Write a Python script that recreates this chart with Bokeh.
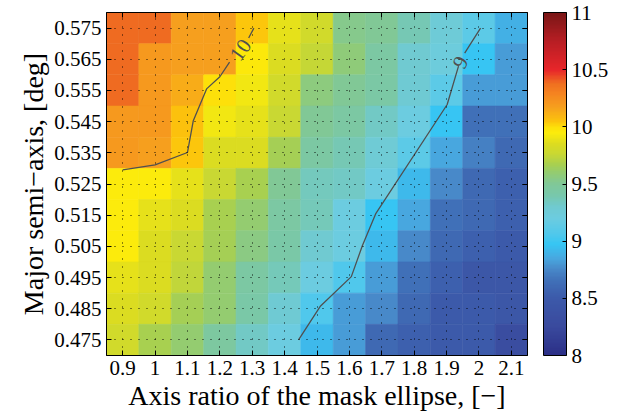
import numpy as np
from bokeh.plotting import figure
from bokeh.models import (LinearColorMapper, ColorBar, FixedTicker, LinearAxis,
                          ColumnDataSource)
from bokeh.embed import file_html
from bokeh.resources import INLINE
from bokeh.core.properties import value

# ---------------- data ----------------
x_vals = [0.9, 1.0, 1.1, 1.2, 1.3, 1.4, 1.5, 1.6, 1.7, 1.8, 1.9, 2.0, 2.1]
x_labels = ["0.9", "1", "1.1", "1.2", "1.3", "1.4", "1.5", "1.6", "1.7", "1.8", "1.9", "2", "2.1"]
y_vals = [0.575, 0.565, 0.555, 0.545, 0.535, 0.525, 0.515, 0.505, 0.495, 0.485, 0.475]
y_labels = ["0.575", "0.565", "0.555", "0.545", "0.535", "0.525", "0.515", "0.505", "0.495", "0.485", "0.475"]

# cell values, one list per row (top row y=0.575 ... bottom row y=0.475), columns x=0.9..2.1
z_0575 = [10.38, 10.38, 10.17, 10.17, 10.05, 9.88, 9.80, 9.53, 9.50, 9.38, 9.26, 9.12, 8.88]
z_0565 = [10.38, 10.20, 10.17, 10.17, 9.96, 9.85, 9.75, 9.58, 9.45, 9.30, 9.22, 8.97, 8.82]
z_0555 = [10.38, 10.20, 10.13, 10.00, 9.92, 9.80, 9.57, 9.50, 9.43, 9.28, 9.12, 8.82, 8.82]
z_0545 = [10.20, 10.20, 10.06, 9.92, 9.88, 9.76, 9.50, 9.45, 9.33, 9.20, 8.97, 8.65, 8.65]
z_0535 = [10.20, 10.17, 10.05, 9.85, 9.85, 9.66, 9.45, 9.38, 9.27, 9.12, 8.85, 8.72, 8.60]
z_0525 = [9.95, 9.95, 9.88, 9.76, 9.67, 9.50, 9.35, 9.33, 9.20, 8.92, 8.75, 8.60, 8.55]
z_0515 = [9.95, 9.88, 9.85, 9.67, 9.60, 9.45, 9.36, 9.20, 8.97, 8.85, 8.65, 8.60, 8.55]
z_0505 = [9.95, 9.85, 9.76, 9.66, 9.55, 9.42, 9.30, 9.20, 8.92, 8.75, 8.60, 8.55, 8.50]
z_0495 = [9.88, 9.85, 9.74, 9.60, 9.45, 9.36, 9.20, 9.06, 8.82, 8.65, 8.55, 8.45, 8.45]
z_0485 = [9.85, 9.80, 9.66, 9.60, 9.42, 9.28, 9.06, 8.82, 8.75, 8.60, 8.50, 8.50, 8.45]
z_0475 = [9.80, 9.67, 9.60, 9.46, 9.33, 9.20, 8.92, 8.82, 8.60, 8.55, 8.50, 8.50, 8.30]
rows = [z_0575, z_0565, z_0555, z_0545, z_0535, z_0525, z_0515, z_0505, z_0495, z_0485, z_0475]

# contour lines (NaN = gap for the label)
c10_x = [0.9, 1.0, 1.1, 1.118, 1.159, 1.2, 1.230, np.nan, 1.289, 1.305]
c10_y = [0.5295, 0.5311, 0.5351, 0.5453, 0.5555, 0.5594, 0.5641, np.nan, 0.5718, 0.575]
c9_x = [2.005, 1.956, np.nan, 1.937, 1.902, 1.681, 1.640, 1.606, 1.511, 1.443]
c9_y = [0.575, 0.5670, np.nan, 0.5628, 0.5505, 0.5154, 0.5052, 0.4953, 0.4859, 0.475]
clab_x = [1.2636, 1.943]
clab_y = [0.5680, 0.5640]
clab_text = ["10", "9"]
clab_angle_deg = [54.5, 63.0]

cb_ticks = [8, 8.5, 9, 9.5, 10, 10.5, 11]
cb_labels = ["8", "8.5", "9", "9.5", "10", "10.5", "11"]

# ---------------- palette ----------------
anchors = [
    (8.00, "#2b2f87"), (8.25, "#3a4a9e"), (8.50, "#3c5aaa"), (8.65, "#4070b8"),
    (8.75, "#4888c8"), (8.85, "#48a8e0"), (8.97, "#36c6f4"), (9.06, "#50c8ec"),
    (9.20, "#6ccce0"), (9.30, "#70cad0"), (9.40, "#78c8ac"), (9.50, "#80c898"),
    (9.60, "#94cc70"), (9.67, "#a8d050"), (9.76, "#c8d834"), (9.85, "#dcdc20"),
    (9.95, "#fcec0c"), (10.00, "#fde00a"), (10.05, "#fcc40c"), (10.17, "#f6a01e"),
    (10.30, "#f58220"), (10.38, "#f07020"), (10.50, "#e8262a"), (10.75, "#b81e24"),
    (11.00, "#7a1616"),
]
av = np.array([a[0] for a in anchors])
ac = np.array([[int(a[1][i:i + 2], 16) for i in (1, 3, 5)] for a in anchors], dtype=float)
n_col = 256
vv = np.linspace(8, 11, n_col)
palette = []
for v in vv:
    rgb = [np.interp(v, av, ac[:, k]) for k in range(3)]
    palette.append("#%02x%02x%02x" % tuple(int(round(c)) for c in rgb))

mapper = LinearColorMapper(palette=palette, low=8, high=11)

xs, ys, zs = [], [], []
for yv, row in zip(y_vals, rows):
    for xv, zv in zip(x_vals, row):
        xs.append(xv)
        ys.append(yv)
        zs.append(zv)
src = ColumnDataSource(dict(x=xs, y=ys, z=zs))

FONT = "Liberation Serif"

p = figure(frame_width=421, frame_height=343, width=None, height=None,
           x_range=(0.85, 2.15), y_range=(0.47, 0.58),
           output_backend="svg", toolbar_location=None,
           min_border_left=106, min_border_top=12, min_border_bottom=5, min_border_right=95)
p.rect(x="x", y="y", width=0.1, height=0.01, source=src,
       fill_color={"field": "z", "transform": mapper},
       line_color={"field": "z", "transform": mapper}, line_width=0.6)

p.line(c10_x, c10_y, line_color="#505050", line_width=1.3)
p.line(c9_x, c9_y, line_color="#505050", line_width=1.3)
p.text(x=clab_x, y=clab_y, text=clab_text, angle=[np.deg2rad(a) for a in clab_angle_deg],
       text_align="center", text_baseline="middle", text_font=value(FONT),
       text_font_size="21px", text_color="#505050")

xt = FixedTicker(ticks=x_vals)
yt = FixedTicker(ticks=y_vals)

for ax in p.xaxis:
    ax.ticker = xt
    ax.major_label_overrides = dict(zip(x_vals, x_labels))
    ax.axis_label = "Axis ratio of the mask ellipse, [\u2212]"
for ax in p.yaxis:
    ax.ticker = yt
    ax.major_label_overrides = dict(zip(y_vals, y_labels))
    ax.axis_label = "Major semi\u2212axis, [deg]"

for ax in list(p.xaxis) + list(p.yaxis):
    ax.minor_tick_line_color = None
    ax.major_tick_in = 5
    ax.major_tick_out = 0
    ax.major_tick_line_color = "black"
    ax.axis_line_color = "black"
    ax.major_label_text_font = FONT
    ax.major_label_text_font_size = "21px"
    ax.major_label_text_color = "black"
    ax.axis_label_text_font = FONT
    ax.axis_label_text_font_size = "28px"
    ax.axis_label_text_font_style = "normal"
    ax.axis_label_text_color = "black"
    ax.major_label_standoff = 5
    ax.axis_label_standoff = 2

for place, tick in (("above", xt), ("right", yt)):
    a = LinearAxis(ticker=tick, major_label_text_font_size="0px", major_label_standoff=0,
                   major_label_text_color=None,
                   major_tick_in=5, major_tick_out=0, minor_tick_line_color=None,
                   axis_line_color="black", major_tick_line_color="black")
    p.add_layout(a, place)

for g in (p.xgrid, p.ygrid):
    g.grid_line_color = "black"
    g.grid_line_dash = "1 7"
    g.grid_line_alpha = 0.9
    g.grid_line_width = 1
    g.level = "overlay"
p.xgrid.ticker = xt
p.ygrid.ticker = yt

p.outline_line_color = "black"
p.outline_line_width = 1

cb = ColorBar(color_mapper=mapper, width=23, height=343,
              ticker=FixedTicker(ticks=cb_ticks),
              major_label_overrides=dict(zip(cb_ticks, cb_labels)),
              major_label_text_font=FONT, major_label_text_font_size="21px",
              major_label_text_color="black",
              major_tick_line_color="black", major_tick_in=4, major_tick_out=0,
              minor_tick_line_color=None,
              bar_line_color="black", border_line_color=None,
              background_fill_color=None, padding=0, margin=0,
              location=(16, 0), label_standoff=5)
p.add_layout(cb, "right")

open("out.html", "w").write(file_html(p, INLINE))
